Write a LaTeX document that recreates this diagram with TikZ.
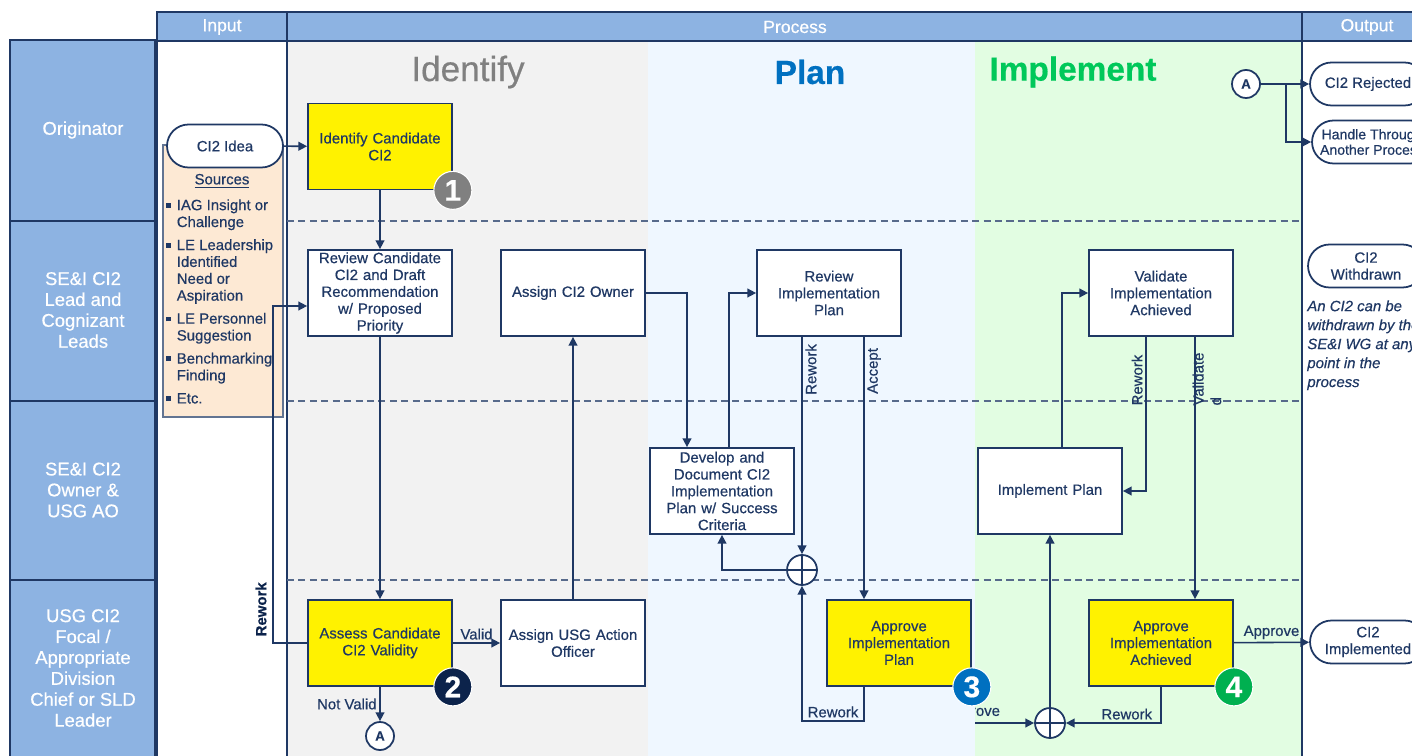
\documentclass[tikz,border=0pt]{standalone}
\usepackage{fontspec}
\setmainfont{Liberation Sans}[FakeBold=0.5]
\usetikzlibrary{arrows.meta, positioning, calc}
\definecolor{navy}{RGB}{31,56,100}
\definecolor{lanefill}{RGB}{141,179,226}
\definecolor{idfill}{RGB}{242,242,242}
\definecolor{planfill}{RGB}{239,247,255}
\definecolor{implfill}{RGB}{226,253,226}
\definecolor{srcfill}{RGB}{253,233,212}
\definecolor{plantext}{RGB}{0,112,192}
\definecolor{impltext}{RGB}{0,200,90}
\definecolor{badgeone}{RGB}{128,128,128}
\definecolor{badgetwo}{RGB}{12,35,75}
\definecolor{badgethree}{RGB}{0,112,192}
\definecolor{badgefour}{RGB}{0,176,80}
\newcommand{\srcbul}{\makebox[0.7em][l]{\rule[0.3ex]{0.32em}{0.32em}}}
\newcommand{\srcind}{\hspace*{0.7em}}
\tikzset{
    lanebox/.style={draw=navy, line width=1.2pt, fill=lanefill},
    lanelabel/.style={text=white, align=center, font=\fontsize{10.5}{11.9}\selectfont},
    headlabel/.style={text=white, font=\fontsize{10}{12}\selectfont},
    lanesep/.style={dash pattern=on 4pt off 2.5pt, draw=navy!75, line width=0.6pt},
    procbox/.style={draw=navy, line width=1pt, fill=white, minimum width=2.88cm, minimum height=1.72cm,
        text width=2.8cm, align=center, text=navy, font=\fontsize{8.5}{9.6}\selectfont, inner sep=1pt},
    approvebox/.style={procbox, fill=yellow},
    term/.style={draw=navy, line width=1pt, fill=white, rounded corners=0.43cm, minimum width=2.32cm,
        minimum height=0.86cm, align=center, text=navy, font=\fontsize{8.5}{9.6}\selectfont},
    badge/.style={circle, minimum size=0.76cm, inner sep=0pt, text=white, draw=white, line width=0.6pt,
        font=\fontsize{17}{17}\selectfont\bfseries},
    junction/.style={circle, draw=navy, line width=1pt, fill=white, minimum size=0.6cm, inner sep=0pt,
        path picture={\draw[navy, line width=0.8pt]
            (path picture bounding box.north) -- (path picture bounding box.south)
            (path picture bounding box.west) -- (path picture bounding box.east);}},
    offpage/.style={circle, draw=navy, line width=1pt, fill=white, minimum size=0.56cm, inner sep=0pt,
        text=navy, font=\fontsize{7.5}{7.5}\selectfont\bfseries},
    flow/.style={draw=navy, line width=0.9pt, -{Triangle[length=5pt,width=5pt]}},
    lbl/.style={text=navy, font=\fontsize{8.5}{10}\selectfont, inner sep=1.5pt},
    srclist/.style={align=left, text=navy, font=\fontsize{8.5}{9.6}\selectfont, inner sep=0pt},
    note/.style={align=left, text=navy, font=\fontsize{8.5}{10.8}\selectfont\itshape, inner sep=0pt}
}
\begin{document}
\begin{tikzpicture}[x=0.02cm, y=-0.02cm]
    \useasboundingbox (0,0) rectangle (1412,756);
    \clip (0,0) rectangle (1412,756);
    % Phase backgrounds
    \fill[idfill] (287,41) rectangle (648,760);
    \fill[planfill] (648,41) rectangle (975,760);
    \fill[implfill] (975,41) rectangle (1302,760);
    % Header row
    \draw[lanebox] (157,12) rectangle (287,41);
    \draw[lanebox] (287,12) rectangle (1302,41);
    \draw[lanebox] (1302,12) rectangle (1440,41);
    \node[headlabel] (inputhead) at (222,27) {Input};
    \node[headlabel] (processhead) at (795,27) {Process};
    \node[headlabel] (outputhead) at (1367,27) {Output};
    % Column borders
    \draw[navy, line width=1.2pt] (157,41) -- (157,760) (287,41) -- (287,760) (1302,41) -- (1302,760);
    % Swimlanes
    \draw[lanebox] (10,40) rectangle (155,221);
    \draw[lanebox] (10,221) rectangle (155,401);
    \draw[lanebox] (10,401) rectangle (155,580);
    \draw[lanebox] (10,580) rectangle (155,770);
    \node[lanelabel] (laneorig) at (83,130) {Originator};
    \node[lanelabel] (lanelead) at (83,310) {SE\&I CI2\\Lead and\\Cognizant\\Leads};
    \node[lanelabel] (laneowner) at (83,490) {SE\&I CI2\\Owner \&\\USG AO};
    \node[lanelabel] (laneusg) at (83,668) {USG CI2\\Focal /\\Appropriate\\Division\\Chief or SLD\\Leader};
    \draw[lanesep] (287,221) -- (1302,221);
    \draw[lanesep] (287,401) -- (1302,401);
    \draw[lanesep] (287,580) -- (1302,580);
    % Phase titles
    \node[text=badgeone, font=\fontsize{20}{24}\selectfont] (identifytitle) at (468,72) {Identify};
    \node[text=plantext, font=\fontsize{19}{24}\selectfont\bfseries] (plantitle) at (810,72) {Plan};
    \node[text=impltext, font=\fontsize{19}{24}\selectfont\bfseries] (impltitle) at (1073,72) {Implement};
    % Input: idea and sources
    \draw[draw=navy!70, line width=0.6pt, fill=srcfill] (163,145) rectangle (283,417);
    \node[term] (idea) at (225,146) {CI2 Idea};
    \node[lbl] (srchead) at (222,181) {\underline{Sources}};
    \node[srclist, anchor=north west] (srcitems) at (166,199) {%
        \srcbul IAG Insight or\\ \srcind Challenge\\[3.5pt]
        \srcbul LE Leadership\\ \srcind Identified\\ \srcind Need or\\ \srcind Aspiration\\[3.5pt]
        \srcbul LE Personnel\\ \srcind Suggestion\\[3.5pt]
        \srcbul Benchmarking\\ \srcind Finding\\[3.5pt]
        \srcbul Etc.};
    % Process steps
    \node[approvebox] (identify) at (380,146.5) {Identify Candidate\\CI2};
    \node[procbox] (review) at (380,293) {Review Candidate\\CI2 and Draft\\Recommendation\\w/ Proposed\\Priority};
    \node[procbox] (owner) at (573,293) {Assign CI2 Owner};
    \node[procbox] (revplan) at (829,293) {Review\\Implementation\\Plan};
    \node[procbox] (validate) at (1161,293) {Validate\\Implementation\\Achieved};
    \node[procbox] (develop) at (722,491) {Develop and\\Document CI2\\Implementation\\Plan w/ Success\\Criteria};
    \node[procbox] (implplan) at (1050,491) {Implement Plan};
    \node[approvebox] (assess) at (380,643) {Assess Candidate\\CI2 Validity};
    \node[procbox] (usgao) at (573,643) {Assign USG Action\\Officer};
    \node[approvebox] (appplan) at (899,643) {Approve\\Implementation\\Plan};
    \node[approvebox] (appach) at (1161,643) {Approve\\Implementation\\Achieved};
    % Step badges
    \node[badge, fill=badgeone] (badge1) at (identify.south east) {1};
    \node[badge, fill=badgetwo] (badge2) at (assess.south east) {2};
    \node[badge, fill=badgethree] (badge3) at (appplan.south east) {3};
    \node[badge, fill=badgefour] (badge4) at (appach.south east) {4};
    % Junctions and off-page connectors
    \node[junction] (junc1) at (802,570) {};
    \node[junction] (junc2) at (1050,723) {};
    \node[offpage] (conA) at (380,736) {A};
    \node[offpage] (conAtop) at (1246,84) {A};
    % Outputs
    \node[term] (rejected) at (1368,84) {CI2 Rejected};
    \node[term, minimum width=2.4cm, font=\fontsize{8}{8.8}\selectfont] (handle) at (1372,142) {Handle Through\\Another Process};
    \node[term] (withdrawn) at (1366,266) {CI2\\Withdrawn};
    \node[note, anchor=north west] (withdrawnote) at (1307,300) {An CI2 can be\\withdrawn by the\\SE\&I WG at any\\point in the\\process};
    \node[term] (implemented) at (1368,642) {CI2\\Implemented};
    % Identify flow
    \draw[flow] (idea) -- (identify);
    \draw[flow] (identify) -- (review);
    \draw[flow] (review) -- (assess);
    \draw[flow] (assess.west) -- ++(-34,0)
        |- node[pos=0.05, rotate=90, above, font=\fontsize{8.5}{10}\selectfont\bfseries, text=badgetwo] {Rework}
        ($(review.west)+(0,13)$);
    \draw[flow] (assess) -- node[lbl, above] {Valid} (usgao);
    \draw[flow] (assess) -- node[lbl, left] {Not Valid} (conA);
    \draw[flow] (usgao) -- (owner);
    % Plan flow
    \draw[flow] (owner.east) -| ($(develop.north)+(-35,0)$);
    \draw[flow] ($(develop.north)+(7,0)$) |- (revplan.west);
    \draw[flow] (junc1 |- revplan.south) -- node[lbl, pos=0.15, rotate=90, below] {Rework} (junc1);
    \coordinate (accepttop) at ($(revplan.south)+(35,0)$);
    \draw[flow] (accepttop) -- node[lbl, pos=0.13, rotate=90, below] {Accept} (accepttop |- appplan.north);
    \draw[flow] (junc1.west) -| (develop.south);
    \draw[flow] (accepttop |- appplan.south) -- ++(0,34) -| node[lbl, pos=0.25, above] {Rework} (junc1.south);
    % Implement flow
    \coordinate (apprstart) at (975,723);
    \draw[flow] (apprstart) -- (junc2.west);
    \begin{scope}
        \clip (975,695) rectangle (1035,730);
        \node[lbl, anchor=south east] (apprhidden) at (1003,722) {Approve};
    \end{scope}
    \draw[flow] (appach.south) |- node[lbl, pos=0.68, above] {Rework} (junc2.east);
    \draw[flow] (junc2) -- (implplan);
    \draw[flow] ($(implplan.north)+(12,0)$) |- (validate.west);
    \draw[flow] ($(validate.south)+(-15,0)$) |- node[lbl, pos=0.14, rotate=90, above] {Rework} (implplan.east);
    \draw[flow] ($(validate.south)+(34,0)$) -- ($(appach.north)+(34,0)$);
    \node[lbl, rotate=90, align=left] (validatedlbl) at (1207,379) {Validate\\d};
    \draw[flow] (appach) -- node[lbl, above] {Approve} (implemented);
    % Rejection branch
    \coordinate (split) at (1286,84);
    \draw[flow] (conAtop) -- (rejected);
    \draw[flow] (split) |- (handle.west);
\end{tikzpicture}
\end{document}
